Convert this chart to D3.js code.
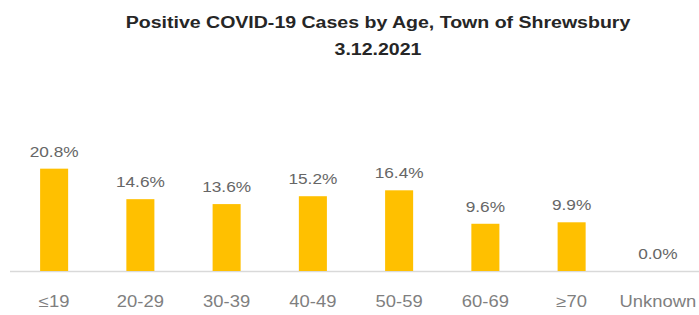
<!DOCTYPE html>
<html lang="en">
<head>
<meta charset="UTF-8" />
<title>Positive COVID-19 Cases by Age</title>
<script src="https://d3js.org/d3.v7.min.js"></script>
<style>
  body { margin: 0; background: #fff; }
  svg { display: block; }
</style>
</head>
<body>
<div id="chart"></div>
<script>
  // ----------- Data ----------- //
  var ageGroups = ["≤19", "20-29", "30-39", "40-49", "50-59", "60-69", "≥70", "Unknown"];
  var percents = [20.8, 14.6, 13.6, 15.2, 16.4, 9.6, 9.9, 0.0];
  var titleLines = ["Positive COVID-19 Cases by Age, Town of Shrewsbury", "3.12.2021"];

  // ----------- Basic Variables ----------- //
  var width = 699;
  var height = 315;
  var baseY = 271;
  var stretch = 1.15; // the source image is a little wider than normal type

  var svg = d3.select("#chart").append("svg")
    .attr("width", width)
    .attr("height", height);

  // ----------- Scales ----------- //
  var xScale = d3.scaleBand()
    .domain(ageGroups)
    .range([11, 701])
    .paddingInner(0.675)
    .paddingOuter(0.3375);

  var yScale = d3.scaleLinear()
    .domain([0, 22])
    .range([baseY, baseY - 22 * 4.92]);

  // ----------- Title ----------- //
  svg.selectAll(".title")
    .data(titleLines)
    .enter()
    .append("text")
      .attr("class", "title")
      .attr("transform", (d, i) => "translate(378," + (28 + i * 27) + ") scale(" + stretch + ",1)")
      .attr("text-anchor", "middle")
      .style("font-family", "'Liberation Sans', Arial, sans-serif")
      .style("font-weight", "bold")
      .style("font-size", "17px")
      .style("fill", "#262626")
      .text(d => d);

  // ----------- Baseline ----------- //
  svg.append("line")
    .attr("x1", 10)
    .attr("x2", width)
    .attr("y1", yScale(0) + 0.5)
    .attr("y2", yScale(0) + 0.5)
    .style("stroke", "#d9d9d9")
    .style("stroke-width", 1.5);

  // ----------- Bars ----------- //
  svg.selectAll(".bar")
    .data(percents)
    .enter()
    .append("rect")
      .attr("class", "bar")
      .attr("x", (d, i) => xScale(ageGroups[i]))
      .attr("y", d => yScale(d))
      .attr("width", xScale.bandwidth())
      .attr("height", d => yScale(0) - yScale(d))
      .style("fill", "#ffc000");

  // ----------- Value labels ----------- //
  svg.selectAll(".value")
    .data(percents)
    .enter()
    .append("text")
      .attr("class", "value")
      .attr("transform", (d, i) => "translate(" + (xScale(ageGroups[i]) + xScale.bandwidth() / 2) + "," + (yScale(d) - 12) + ") scale(" + stretch + ",1)")
      .attr("text-anchor", "middle")
      .style("font-family", "'Liberation Sans', Arial, sans-serif")
      .style("font-size", "15px")
      .style("fill", "#666666")
      .text(d => d.toFixed(1) + "%");

  // ----------- x-Axis labels ----------- //
  var xAxis = d3.axisBottom(xScale).tickSize(0).tickPadding(0);

  var axisG = svg.append("g")
    .attr("transform", "translate(0," + 296 + ")")
    .call(xAxis);

  axisG.select(".domain").remove();
  axisG.selectAll("text")
    .attr("dy", "0.71em")
    .attr("y", 0)
    .attr("transform", "scale(" + stretch + ",1)")
    .style("font-family", "'Liberation Sans', Arial, sans-serif")
    .style("font-size", "16px")
    .style("fill", "#7f7f7f");
</script>
</body>
</html>
